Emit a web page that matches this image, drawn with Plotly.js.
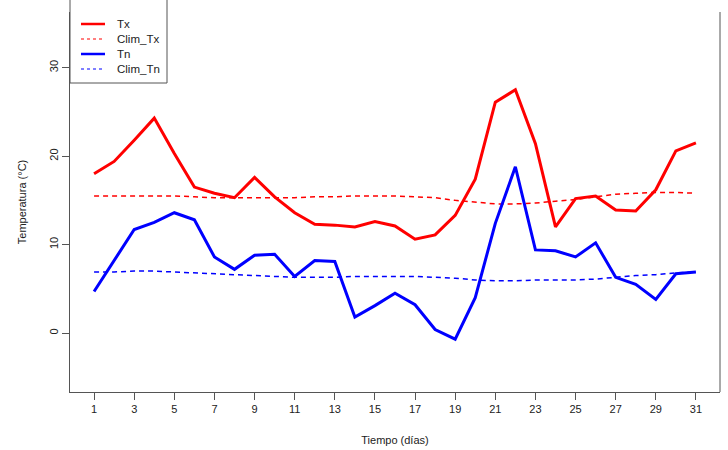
<!DOCTYPE html>
<html>
<head>
<meta charset="utf-8">
<script src="https://cdn.plot.ly/plotly-3.0.1.min.js"></script>
<style>html,body{margin:0;padding:0;background:#fff;}#chart{width:728px;height:450px;}</style>
</head>
<body>
<div id="chart"></div>
<script>
const dias = [1,2,3,4,5,6,7,8,9,10,11,12,13,14,15,16,17,18,19,20,21,22,23,24,25,26,27,28,29,30,31];
const tx = [18.0,19.4,21.8,24.3,20.3,16.5,15.8,15.3,17.6,15.4,13.6,12.3,12.2,12.0,12.6,12.1,10.6,11.1,13.3,17.4,26.1,27.5,21.4,12.0,15.2,15.5,13.9,13.8,16.2,20.6,21.5];
const climTx = [15.5,15.5,15.5,15.5,15.5,15.4,15.3,15.3,15.3,15.3,15.3,15.4,15.4,15.5,15.5,15.5,15.4,15.3,15.0,14.8,14.6,14.6,14.7,14.9,15.1,15.4,15.7,15.8,15.9,15.9,15.8];
const tn = [4.7,8.2,11.7,12.5,13.6,12.8,8.6,7.2,8.8,8.9,6.4,8.2,8.1,1.8,3.1,4.5,3.2,0.4,-0.7,4.0,12.4,18.8,9.4,9.3,8.6,10.2,6.3,5.5,3.8,6.7,6.9];
const climTn = [6.9,6.9,7.0,7.0,6.9,6.8,6.7,6.6,6.5,6.4,6.3,6.3,6.3,6.4,6.4,6.4,6.4,6.3,6.2,6.0,5.9,5.9,6.0,6.0,6.0,6.1,6.3,6.5,6.6,6.8,6.9];
const xTicks = [1,3,5,7,9,11,13,15,17,19,21,23,25,27,29,31];
const yTicks = [0,10,20,30];
const seriesNames = ['Tx','Clim_Tx','Tn','Clim_Tn'];

const RED = '#ff0000', BLUE = '#0000ff', AX = '#555555';
const styles = [
  {color: RED, width: 3},
  {color: RED, width: 1.5, dash: '5px,4px'},
  {color: BLUE, width: 3},
  {color: BLUE, width: 1.5, dash: '5px,4px'}
];
const seriesY = [tx, climTx, tn, climTn];

const traces = seriesY.map((ys, i) => ({
  x: dias, y: ys, name: seriesNames[i], mode: 'lines', line: styles[i], showlegend: false
}));

// plot area in pixels (for the hand-drawn legend box)
const W = 728, H = 450, M = {l: 70, r: 8, t: 12, b: 58};
const PW = W - M.l - M.r, PH = H - M.t - M.b;
const px = v => (v - M.l) / PW;
const py = v => (H - M.b - v) / PH;

const shapes = [
  // right edge of the box
  {type: 'line', xref: 'paper', yref: 'paper', x0: 1, x1: 1, y0: 0, y1: 1, line: {color: AX, width: 1}},
  // legend box (top edge lies above the picture, as in the reference)
  {type: 'rect', xref: 'paper', yref: 'paper', x0: 0, x1: px(167), y0: py(83), y1: py(-20),
   line: {color: AX, width: 1}, fillcolor: 'rgba(0,0,0,0)'}
];
const annotations = [];
const legY = [24, 39, 54, 69];
seriesNames.forEach((n, i) => {
  const s = styles[i];
  shapes.push({type: 'line', xref: 'paper', yref: 'paper', x0: px(81), x1: px(105), y0: py(legY[i]), y1: py(legY[i]),
    line: {color: s.color, width: s.width === 3 ? 2.5 : 1.2, dash: s.dash ? '3px,3px' : 'solid'}});
  annotations.push({xref: 'paper', yref: 'paper', x: px(115), y: py(legY[i]), xanchor: 'left', yanchor: 'middle',
    text: n, showarrow: false, font: {size: 11.5, color: '#222'}});
});

const layout = {
  width: W, height: H,
  margin: M,
  paper_bgcolor: '#fff', plot_bgcolor: '#fff',
  font: {family: 'Liberation Sans, Arial, sans-serif', size: 11, color: '#222'},
  showlegend: false,
  shapes: shapes,
  annotations: annotations,
  xaxis: {
    range: [-0.2, 32.2], tickmode: 'array', tickvals: xTicks, ticktext: xTicks.map(String),
    ticks: 'outside', ticklen: 7, tickcolor: AX, showgrid: false, zeroline: false,
    showline: true, linecolor: AX, linewidth: 1,
    title: {text: 'Tiempo (días)', font: {size: 11}, standoff: 22}
  },
  yaxis: {
    range: [-6.67, 36.3], tickmode: 'array', tickvals: yTicks, ticktext: yTicks.map(String),
    ticks: 'outside', ticklen: 7, tickcolor: AX, showgrid: false, zeroline: false,
    tickangle: -90, showline: true, linecolor: AX, linewidth: 1,
    title: {text: 'Temperatura (°C)', font: {size: 11}, standoff: 18}
  }
};

Plotly.newPlot('chart', traces, layout, {displayModeBar: false, staticPlot: true});
</script>
</body>
</html>
